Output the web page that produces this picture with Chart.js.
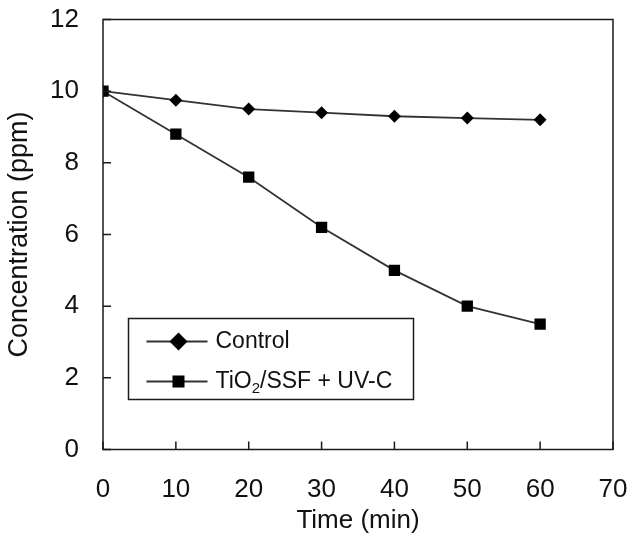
<!DOCTYPE html>
<html>
<head>
<meta charset="utf-8">
<script src="https://cdn.jsdelivr.net/npm/chart.js@4/dist/chart.umd.min.js"></script>
<style>
  html, body { margin: 0; padding: 0; background: #fff; }
  #wrap { width: 630px; height: 539px; }
</style>
</head>
<body>
<div id="wrap"><canvas id="chart"></canvas></div>
<script>
// data
const timeMin = [0, 10, 20, 30, 40, 50, 60]
const controlPpm = [10, 9.75, 9.5, 9.4, 9.3, 9.25, 9.2]
const tio2Ppm = [10, 8.8, 7.6, 6.2, 5.0, 4.0, 3.5]
const seriesLabels = ['Control', 'TiO₂/SSF + UV-C']
const xTitle = 'Time (min)'
const yTitle = 'Concentration (ppm)'

const FONT = "'Liberation Sans', Arial, sans-serif"
const INK = '#000'

// box around the plot, inward tick marks and the legend inside the plot
const framePlugin = {
  id: 'frame',
  afterDraw(chart) {
    const { ctx, chartArea: a, scales } = chart
    ctx.save()
    ctx.strokeStyle = '#1a1a1a'
    ctx.lineWidth = 1.5
    ctx.strokeRect(a.left, a.top, a.right - a.left, a.bottom - a.top)

    const tickLen = 8
    ctx.beginPath()
    scales.x.ticks.forEach(t => {
      const x = scales.x.getPixelForValue(t.value)
      ctx.moveTo(x, a.bottom)
      ctx.lineTo(x, a.bottom - tickLen)
    })
    scales.y.ticks.forEach(t => {
      const y = scales.y.getPixelForValue(t.value)
      ctx.moveTo(a.left, y)
      ctx.lineTo(a.left + tickLen, y)
    })
    ctx.stroke()

    // legend box
    const lx = a.left + 25.5, ly = a.top + 299
    const lw = 285, lh = 81
    ctx.fillStyle = '#fff'
    ctx.fillRect(lx, ly, lw, lh)
    ctx.strokeRect(lx, ly, lw, lh)

    chart.data.datasets.forEach((ds, i) => {
      const cy = ly + 23 + i * 40
      ctx.strokeStyle = ds.borderColor
      ctx.lineWidth = ds.borderWidth
      ctx.beginPath()
      ctx.moveTo(lx + 18, cy)
      ctx.lineTo(lx + 79, cy)
      ctx.stroke()
      ctx.fillStyle = INK
      Chart.helpers.drawPoint(ctx, {
        pointStyle: ds.pointStyle,
        radius: ds.legendRadius,
        rotation: 0,
        borderWidth: 0
      }, lx + 50, cy)

      // label, with the "2" of TiO2 set as a subscript
      ctx.fillStyle = '#111'
      ctx.textBaseline = 'middle'
      ctx.textAlign = 'left'
      let tx = lx + 87
      const parts = ds.label.split('₂')
      parts.forEach((p, k) => {
        ctx.font = `23px ${FONT}`
        ctx.fillText(p, tx, cy)
        tx += ctx.measureText(p).width
        if (k < parts.length - 1) {
          ctx.font = `15px ${FONT}`
          ctx.fillText('2', tx, cy + 7)
          tx += ctx.measureText('2').width
        }
      })
    })
    ctx.restore()
  }
}

const ctx = document.getElementById('chart').getContext('2d')

new Chart(ctx, {
  type: 'line',
  data: {
    labels: timeMin,
    datasets: [
      {
        label: seriesLabels[0],
        data: timeMin.map((t, i) => ({ x: t, y: controlPpm[i] })),
        borderColor: '#333',
        borderWidth: 1.8,
        pointStyle: 'rectRot',
        pointRadius: 6.5,
        legendRadius: 9,
        pointBackgroundColor: INK,
        pointBorderColor: INK,
        pointBorderWidth: 0,
        tension: 0
      },
      {
        label: seriesLabels[1],
        data: timeMin.map((t, i) => ({ x: t, y: tio2Ppm[i] })),
        borderColor: '#333',
        borderWidth: 1.8,
        pointStyle: 'rect',
        pointRadius: 8,
        legendRadius: 8.5,
        pointBackgroundColor: INK,
        pointBorderColor: INK,
        pointBorderWidth: 0,
        tension: 0
      }
    ]
  },
  options: {
    responsive: true,
    maintainAspectRatio: false,
    animation: false,
    layout: {
      padding: { left: 0, right: 17, top: 19.5, bottom: 0 }
    },
    plugins: {
      legend: { display: false },
      tooltip: { enabled: false }
    },
    scales: {
      x: {
        type: 'linear',
        min: 0,
        max: 70,
        grid: { display: false, drawTicks: false },
        border: { display: false },
        ticks: {
          stepSize: 10,
          padding: 25,
          color: '#111',
          font: { family: FONT, size: 26 }
        },
        title: {
          display: true,
          text: xTitle,
          color: '#111',
          padding: { top: 0, bottom: 3 },
          font: { family: FONT, size: 26 }
        },
        afterFit(scale) {
          scale.height = 89.5
          scale.paddingLeft = 0
          scale.paddingRight = 0
        }
      },
      y: {
        min: 0,
        max: 12,
        grid: { display: false, drawTicks: false },
        border: { display: false },
        ticks: {
          stepSize: 2,
          padding: 24,
          color: '#111',
          font: { family: FONT, size: 26 }
        },
        title: {
          display: true,
          text: yTitle,
          color: '#111',
          padding: { top: 3, bottom: 0 },
          font: { family: FONT, size: 27 }
        },
        afterFit(scale) {
          scale.width = 103
          scale.paddingTop = 0
          scale.paddingBottom = 0
        }
      }
    }
  },
  plugins: [framePlugin]
})
</script>
</body>
</html>
